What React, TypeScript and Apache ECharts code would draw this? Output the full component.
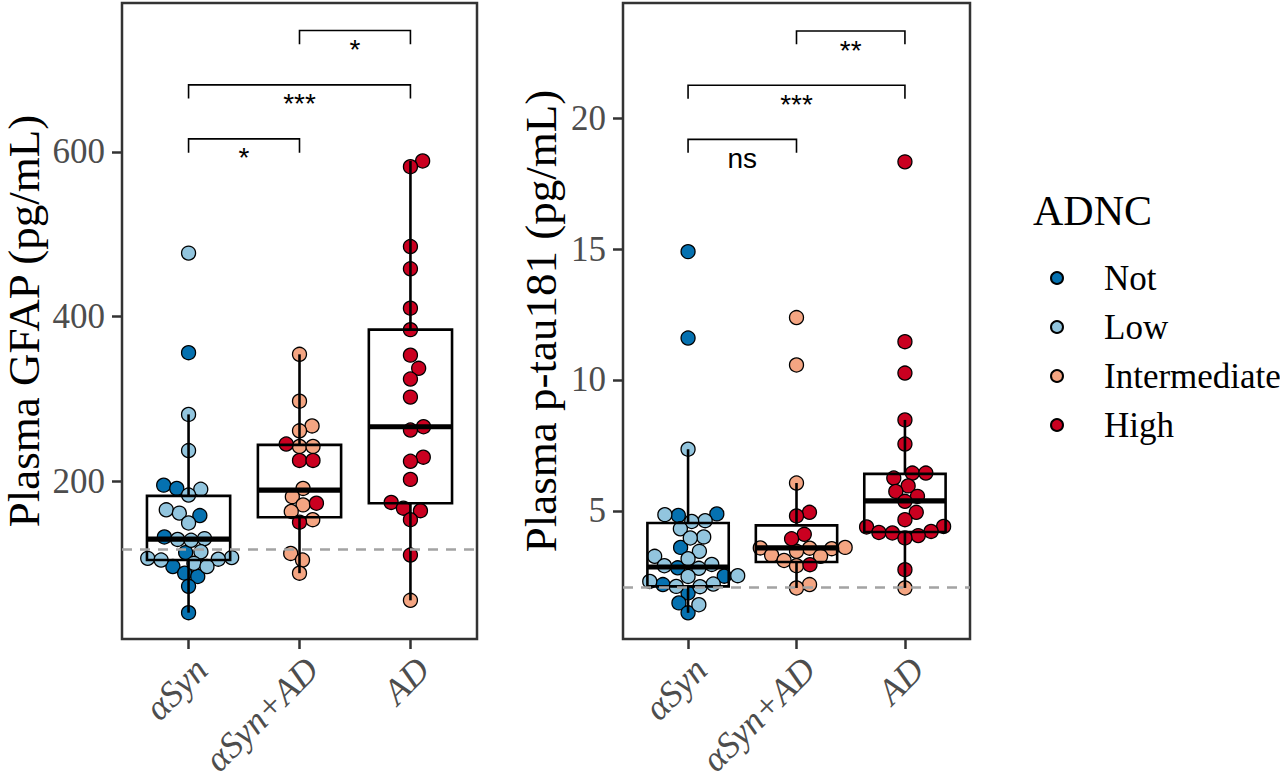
import React, { useEffect, useRef } from "react";
import * as echarts from "echarts";

// ---------- categories / legend ----------
const groups = ["αSyn", "αSyn+AD", "AD"];
const levels = ["Not", "Low", "Intermediate", "High"];
const levelColors = ["#0571B0", "#92C5DE", "#F4A582", "#CA0020"];

// ---------- Plasma GFAP (pg/mL) ----------
const gfapASynNot = [356, 195, 191, 158, 132, 113, 96, 88, 84, 72, 40];
const gfapASynLow = [477, 281, 237, 190, 183, 165, 161, 149, 130, 129, 128, 114, 107, 106, 105, 104, 100, 96];
const gfapASynADInt = [354, 297, 267, 261, 242, 242, 191, 181, 171, 163, 153, 112, 104, 88];
const gfapASynADHigh = [245, 225, 225, 173, 150];
const gfapADInt = [55];
const gfapADHigh = [589, 582, 485, 458, 410, 384, 353, 337, 324, 302, 266, 262, 229, 224, 202, 174, 167, 164, 153, 110];
// box stats per group: [min, Q1, median, Q3, max]
const gfapBoxASyn = [40, 104, 129.5, 182, 281];
const gfapBoxASynAD = [88, 156, 189, 244, 354];
const gfapBoxAD = [55, 173, 266, 384, 589];
const gfapThreshold = 117.4;
const gfapBrackets = [
  [1, 2, 615.8, 599],
  [1, 3, 681.5, 664.8],
  [2, 3, 747.5, 731],
];
const gfapBracketLabels = ["*", "***", "*"];
const gfapTicks = [200, 400, 600];

// ---------- Plasma p-tau181 (pg/mL) ----------
const ptauASynNot = [14.9, 11.6, 4.88, 4.82, 3.6, 2.82, 2.5, 2.18, 1.86, 1.48, 1.1];
const ptauASynLow = [7.35, 4.85, 4.62, 4.59, 4.31, 4.0, 3.96, 3.45, 3.26, 3.17, 2.95, 2.9, 2.8, 2.52, 2.49, 2.3, 2.2, 2.11, 2.1, 1.41];
const ptauASynADInt = [12.38, 10.57, 6.06, 3.6, 3.58, 3.57, 3.55, 3.45, 3.3, 3.26, 3.1, 2.9, 2.18, 2.05];
const ptauASynADHigh = [4.94, 4.8, 4.1, 3.93, 2.94];
const ptauADInt = [2.05];
const ptauADHigh = [18.33, 11.46, 10.26, 8.47, 7.55, 6.44, 6.44, 6.25, 5.95, 5.74, 5.55, 5.36, 4.94, 4.66, 4.4, 4.38, 4.21, 4.17, 4.15, 4.05, 3.96, 2.75];
const ptauBoxASyn = [1.1, 2.11, 2.85, 4.53, 7.35];
const ptauBoxASynAD = [2.05, 3.04, 3.58, 4.44, 6.06];
const ptauBoxAD = [2.05, 4.19, 5.38, 6.41, 8.47];
const ptauThreshold = 2.06;
const ptauBrackets = [
  [1, 2, 19.19, 18.68],
  [1, 3, 21.26, 20.74],
  [2, 3, 23.33, 22.82],
];
const ptauBracketLabels = ["ns", "***", "**"];
const ptauTicks = [5, 10, 15, 20];

// ---------- layout ----------
const SERIF = "'Liberation Serif', 'Times New Roman', serif";
const SANS = "'Liberation Sans', Arial, sans-serif";
const X_MIN = 0.4;
const X_MAX = 3.6;
const GRID_TOP = 3;
const GRID_H = 636;
const panels = [
  {
    left: 122, width: 355, yMin: 8, yMax: 781,
    name: "Plasma GFAP (pg/mL)", nameGap: 76,
    // per group, per level (Not, Low, Intermediate, High)
    pts: [
      [gfapASynNot, gfapASynLow, [], []],
      [[], [], gfapASynADInt, gfapASynADHigh],
      [[], [], gfapADInt, gfapADHigh],
    ],
    boxes: [gfapBoxASyn, gfapBoxASynAD, gfapBoxAD],
    thr: gfapThreshold, brackets: gfapBrackets, labels: gfapBracketLabels, ticks: gfapTicks,
  },
  {
    left: 623, width: 347, yMin: 0.1, yMax: 24.4,
    name: "Plasma p-tau181 (pg/mL)", nameGap: 60,
    pts: [
      [ptauASynNot, ptauASynLow, [], []],
      [[], [], ptauASynADInt, ptauASynADHigh],
      [[], [], ptauADInt, ptauADHigh],
    ],
    boxes: [ptauBoxASyn, ptauBoxASynAD, ptauBoxAD],
    thr: ptauThreshold, brackets: ptauBrackets, labels: ptauBracketLabels, ticks: ptauTicks,
  },
];

const POINT = 14;
const SWARM_D = 13.5;

// beeswarm ("swarm") placement in pixel space, returns x offsets in axis units
function swarmOffsets(vals: number[], pxX: number, pxY: number, d: number): number[] {
  const idx = vals.map((_, i) => i).sort((a, b) => vals[a] - vals[b]);
  const placed: { x: number; y: number }[] = [];
  const out = new Array(vals.length).fill(0);
  for (const i of idx) {
    const y = vals[i] * pxY;
    const cands = [0];
    for (const p of placed) {
      const dy = y - p.y;
      if (Math.abs(dy) < d) {
        const o = Math.sqrt(d * d - dy * dy);
        cands.push(p.x + o, p.x - o);
      }
    }
    let best = 0;
    let bestAbs = Infinity;
    for (const c of cands) {
      if (Math.abs(c) >= bestAbs - 1e-9) continue;
      let ok = true;
      for (const p of placed) {
        const dx = c - p.x;
        const dy = y - p.y;
        if (dx * dx + dy * dy < d * d - 1e-6) { ok = false; break; }
      }
      if (ok) { best = c; bestAbs = Math.abs(c); }
    }
    placed.push({ x: best, y });
    out[i] = best / pxX;
  }
  return out;
}

function buildOption() {
  const grid: any[] = [];
  const xAxis: any[] = [];
  const yAxis: any[] = [];
  const series: any[] = [];

  panels.forEach((p, pi) => {
    grid.push({
      left: p.left, top: GRID_TOP, width: p.width, height: GRID_H,
      show: true, borderColor: "#333333", borderWidth: 2.5, backgroundColor: "transparent",
      containLabel: false, outerBoundsMode: "none",
    });
    xAxis.push({
      gridIndex: pi, type: "value", min: X_MIN, max: X_MAX,
      splitLine: { show: false }, axisLine: { show: false },
      axisTick: { show: true, customValues: [1, 2, 3], length: 10, lineStyle: { color: "#333333", width: 2.5 } },
      axisLabel: {
        customValues: [1, 2, 3],
        formatter: (v: number) => groups[Math.round(v) - 1] ?? "",
        rotate: 45, align: "right", verticalAlign: "top", margin: 12,
        fontSize: 36, fontFamily: SERIF, fontStyle: "italic", color: "#4D4D4D",
      },
    });
    yAxis.push({
      gridIndex: pi, type: "value", min: p.yMin, max: p.yMax,
      splitLine: { show: false }, axisLine: { show: false },
      axisTick: { show: true, customValues: p.ticks, length: 10, lineStyle: { color: "#333333", width: 2.5 } },
      axisLabel: { customValues: p.ticks, margin: 17, fontSize: 35, fontFamily: SERIF, color: "#4D4D4D" },
      name: p.name, nameLocation: "middle", nameGap: p.nameGap, nameMoveOverlap: false,
      nameTextStyle: { fontSize: 45, fontFamily: SERIF, color: "#000000" },
    });

    // dashed reference line
    series.push({
      type: "scatter", xAxisIndex: pi, yAxisIndex: pi, data: [], z: 1, silent: true,
      markLine: {
        silent: true, symbol: ["none", "none"], label: { show: false },
        lineStyle: { type: [10, 8], color: "#A3A3A3", width: 2.6 },
        data: [{ yAxis: p.thr }],
      },
    });

    // points (beeswarm)
    const pxX = p.width / (X_MAX - X_MIN);
    const pxY = GRID_H / (p.yMax - p.yMin);
    const byLevel: number[][][] = levels.map(() => []);
    p.pts.forEach((lvlArrs, gi) => {
      const vals: number[] = [];
      const lv: number[] = [];
      lvlArrs.forEach((arr, li) => arr.forEach((v) => { vals.push(v); lv.push(li); }));
      const offs = swarmOffsets(vals, pxX, pxY, SWARM_D);
      vals.forEach((v, k) => byLevel[lv[k]].push([gi + 1 + offs[k], v]));
    });
    levels.forEach((lvl, li) => {
      series.push({
        name: lvl, type: "scatter", xAxisIndex: pi, yAxisIndex: pi,
        symbol: "circle", symbolSize: POINT, z: 2,
        itemStyle: { color: levelColors[li], borderColor: "#000000", borderWidth: 1.3, opacity: 1 },
        emphasis: { disabled: true },
        data: byLevel[li],
      });
    });

    // boxplots (drawn over points, no fill)
    series.push({
      type: "custom", xAxisIndex: pi, yAxisIndex: pi, z: 3, silent: true,
      data: p.boxes.map((b, gi) => [gi + 1, ...b]),
      renderItem: (_params: any, api: any) => {
        const x = api.value(0);
        const mn = api.value(1), q1 = api.value(2), md = api.value(3), q3 = api.value(4), mx = api.value(5);
        const hw = 0.375;
        const tl = api.coord([x - hw, q3]);
        const br = api.coord([x + hw, q1]);
        const ml = api.coord([x - hw, md]);
        const mr = api.coord([x + hw, md]);
        const pMax = api.coord([x, mx]);
        const pQ3 = api.coord([x, q3]);
        const pQ1 = api.coord([x, q1]);
        const pMin = api.coord([x, mn]);
        const ls = { stroke: "#000000", lineWidth: 2.6, fill: "rgba(0,0,0,0)" };
        return {
          type: "group",
          children: [
            { type: "line", shape: { x1: pMax[0], y1: pMax[1], x2: pQ3[0], y2: pQ3[1] }, style: ls },
            { type: "line", shape: { x1: pQ1[0], y1: pQ1[1], x2: pMin[0], y2: pMin[1] }, style: ls },
            { type: "rect", shape: { x: tl[0], y: tl[1], width: br[0] - tl[0], height: br[1] - tl[1] }, style: ls },
            { type: "line", shape: { x1: ml[0], y1: ml[1], x2: mr[0], y2: mr[1] }, style: { stroke: "#000000", lineWidth: 5.2 } },
          ],
        };
      },
    });

    // significance brackets
    series.push({
      type: "custom", xAxisIndex: pi, yAxisIndex: pi, z: 4, silent: true,
      data: p.brackets,
      renderItem: (params: any, api: any) => {
        const x1 = api.value(0), x2 = api.value(1), yl = api.value(2), yt = api.value(3);
        const a = api.coord([x1, yt]);
        const b = api.coord([x1, yl]);
        const c = api.coord([x2, yl]);
        const d = api.coord([x2, yt]);
        return {
          type: "group",
          children: [
            { type: "polyline", shape: { points: [a, b, c, d] }, style: { stroke: "#000000", lineWidth: 1.6, fill: null } },
            {
              type: "text", x: (b[0] + c[0]) / 2, y: b[1] + 19,
              style: {
                text: p.labels[params.dataIndex], fill: "#000000", fontSize: 28, fontFamily: SANS,
                align: "center", verticalAlign: "middle",
              },
            },
          ],
        };
      },
    });
  });

  return {
    animation: false,
    backgroundColor: "#FFFFFF",
    title: {
      text: "ADNC", left: 1033, top: 190, padding: 0,
      textStyle: { fontSize: 42, fontFamily: SERIF, fontWeight: "normal", color: "#000000" },
    },
    legend: {
      data: levels, orient: "vertical", left: 1050, top: 258, padding: 0,
      itemWidth: 84, itemHeight: 12, itemGap: 9, icon: "circle", selectedMode: false,
      textStyle: { fontSize: 35, fontFamily: SERIF, color: "#000000", lineHeight: 40 },
    },
    grid, xAxis, yAxis, series,
  };
}

export default function App() {
  const ref = useRef<HTMLDivElement>(null);
  useEffect(() => {
    if (!ref.current) return;
    const chart = echarts.init(ref.current, undefined, { renderer: "svg" });
    chart.setOption(buildOption() as any);
    return () => chart.dispose();
  }, []);
  return (
    <div
      ref={ref}
      style={{ position: "fixed", left: 0, top: 0, width: 1280, height: 778, background: "#FFFFFF" }}
    />
  );
}
